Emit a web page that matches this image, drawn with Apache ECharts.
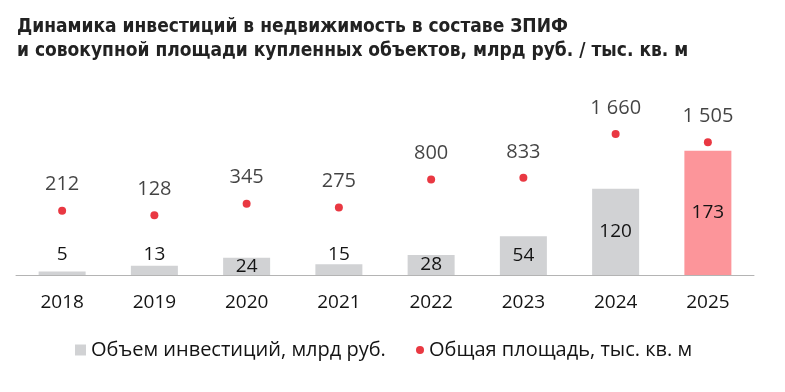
<!DOCTYPE html>
<html>
<head>
<meta charset="utf-8">
<script src="https://cdn.jsdelivr.net/npm/echarts@6/dist/echarts.min.js"></script>
<style>
html,body{margin:0;padding:0;background:#fff;}
#c{width:785px;height:392px;}
</style>
</head>
<body>
<div id="c"></div>
<script>
const years = ['2018','2019','2020','2021','2022','2023','2024','2025'];
const investments = [5, 13, 24, 15, 28, 54, 120, 173];
const area = [212, 128, 345, 275, 800, 833, 1660, 1505];
const seriesNames = ['Объем инвестиций, млрд руб.', 'Общая площадь, тыс. кв. м'];
const titleText = 'Динамика инвестиций в недвижимость в составе ЗПИФ\nи совокупной площади купленных объектов, млрд руб. / тыс. кв. м';

const FONT = 'Open Sans';
const TXT = '#141414';
const GRAY = '#d1d2d4';
const PINK = '#fc959a';
const RED = '#e30613';

function fmt(v){ return String(v).replace(/\B(?=(\d{3})+(?!\d))/g, ' '); }

const barData = investments.map((v, i) => {
  const item = { value: v };
  if (i === years.length - 1) item.itemStyle = { color: PINK };
  if (v < 20) item.label = { position: 'insideBottom', distance: 11 };
  return item;
});

const chart = echarts.init(document.getElementById('c'), null, { renderer: 'canvas' });
chart.setOption({
  animation: false,
  backgroundColor: '#fff',
  title: {
    text: titleText,
    left: 12, top: 10,
    textStyle: { fontFamily: '"DejaVu Sans Condensed", Roboto, sans-serif', fontWeight: 'bold', fontSize: 19, color: '#222', lineHeight: 24 }
  },
  legend: [
    {
      data: [{ name: seriesNames[0], icon: 'rect' }],
      left: 75, top: 340, padding: 0,
      itemWidth: 11, itemHeight: 11, itemGap: 6,
      textStyle: { fontFamily: FONT, fontSize: 20, color: TXT }
    },
    {
      data: [{ name: seriesNames[1], icon: 'circle' }],
      left: 416, top: 340, padding: 0,
      itemWidth: 8, itemHeight: 8, itemGap: 6,
      textStyle: { fontFamily: FONT, fontSize: 20, color: TXT }
    }
  ],
  grid: { left: 16, right: 31, top: 102.7, bottom: 117, containLabel: false },
  xAxis: {
    type: 'category',
    data: years,
    boundaryGap: true,
    axisTick: { show: false },
    axisLine: { lineStyle: { color: '#b4b4b4', width: 1 } },
    axisLabel: { fontFamily: FONT, fontSize: 19, color: TXT, margin: 18 }
  },
  yAxis: [
    { type: 'value', min: 0, max: 240, show: false, splitLine: { show: false } },
    { type: 'value', min: -1000, max: 2250, show: false, splitLine: { show: false } }
  ],
  series: [
    {
      name: seriesNames[0],
      type: 'bar',
      yAxisIndex: 0,
      data: barData,
      barWidth: 47,
      itemStyle: { color: GRAY },
      label: {
        show: true, position: 'inside',
        fontFamily: FONT, fontSize: 19, color: TXT
      },
      z: 2
    },
    {
      name: seriesNames[1],
      type: 'scatter',
      yAxisIndex: 1,
      data: area,
      symbol: 'circle',
      symbolSize: 8,
      itemStyle: { color: RED },
      label: {
        show: true, position: 'top', distance: 12,
        fontFamily: FONT, fontSize: 20, color: TXT,
        formatter: p => fmt(p.value)
      },
      z: 3
    }
  ]
});
</script>
</body>
</html>
